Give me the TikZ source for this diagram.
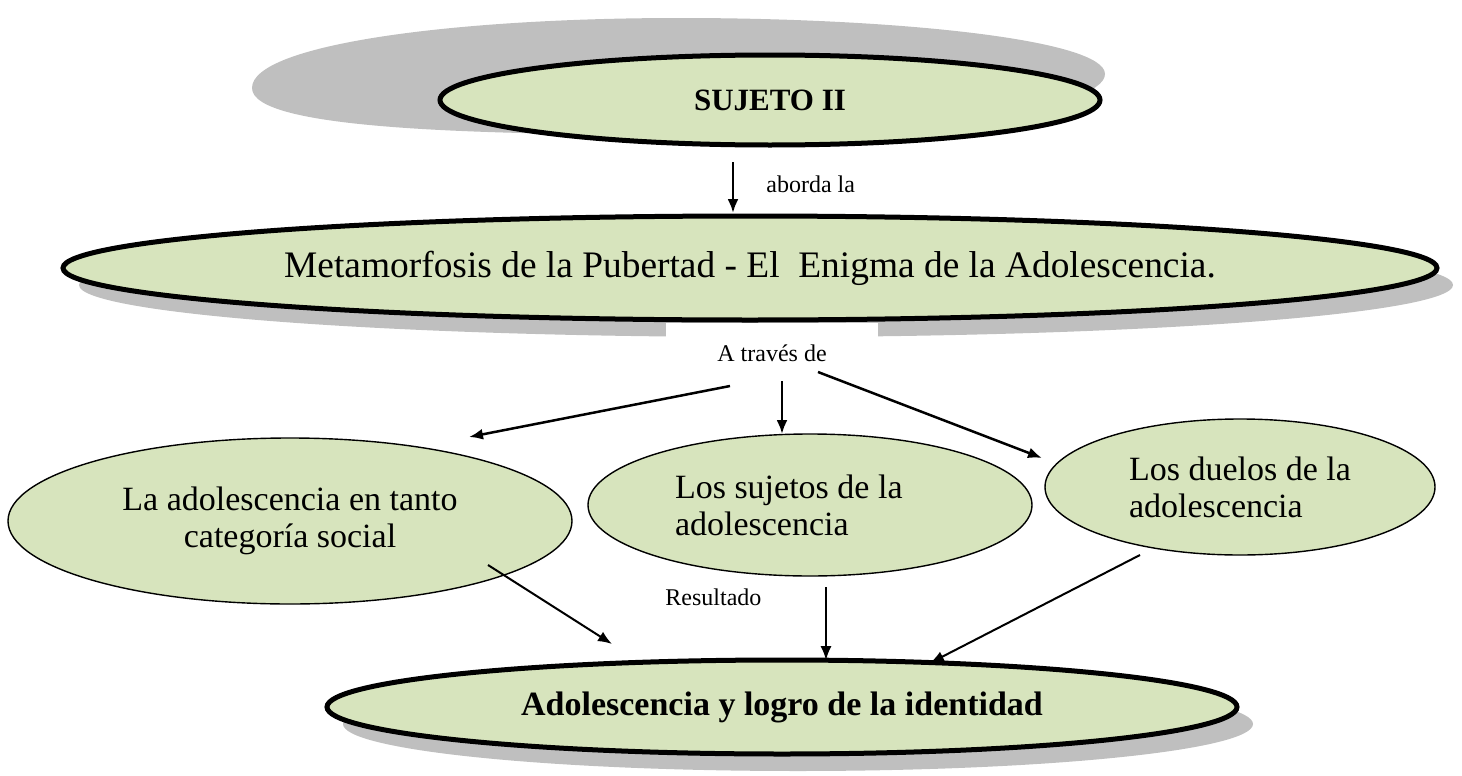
\documentclass[tikz,border=0pt]{standalone}
\usepackage{fontspec}
\setmainfont{Liberation Serif}
\usepackage{tikz}
\usetikzlibrary{arrows.meta, positioning, shapes.geometric, shadows}
\definecolor{olivefill}{HTML}{D7E4BD}
\definecolor{shadowgray}{HTML}{BFBFBF}
\tikzset{
>={Latex[length=7pt,width=5.5pt]}, % filled arrow heads
bubble/.style={ellipse, draw, fill=olivefill, line width=0.7pt, inner sep=0pt,
  align=center, font=\fontsize{17}{18.5}\selectfont}, % light green ellipse
bigbubble/.style={bubble, line width=2.5pt}, % same with a heavy border
shadowed/.style={drop shadow={shadow xshift=8pt, shadow yshift=-8.5pt,
  fill=shadowgray, opacity=1}}, % grey shadow down right
lbl/.style={font=\fontsize{12}{14}\selectfont, inner sep=1pt}, % connector labels
link/.style={->, line width=1.25pt}, % connectors
thinlink/.style={->, line width=1pt},
}

\begin{document}
\begin{tikzpicture}[x=0.5pt, y=-0.5pt]
  \useasboundingbox (0,0) rectangle (1462,776);

  % perspective shadow of the title
  \fill[shadowgray] (252,88) .. controls (252,45) and (450,18) .. (680,18)
    .. controls (900,18) and (1105,40) .. (1105,74)
    .. controls (1105,110) and (900,135) .. (720,135)
    .. controls (480,135) and (252,130) .. (252,88) -- cycle;

  \node[bigbubble, minimum width=330pt, minimum height=45pt,
    font=\fontsize{15.5}{17}\selectfont\bfseries] (sujeto) at (770,100) {SUJETO II};
  \node[bigbubble, shadowed, minimum width=687pt, minimum height=52pt,
    font=\fontsize{18.7}{20}\selectfont] (meta) at (750,268)
    {Metamorfosis de la Pubertad - El~~Enigma de la Adolescencia.};
  \node[lbl, fill=white, minimum width=106pt, minimum height=30pt] (traves) at (772,353) {A través de};

  \node[bubble, minimum width=282pt, minimum height=83pt] (categ) at (290,521)
    {La adolescencia en tanto\\categoría social};
  \node[bubble, minimum width=222pt, minimum height=71pt, text width=135pt, align=flush left] (sujetos) at (810,505)
    {Los sujetos de la\\adolescencia};
  \node[bubble, minimum width=195pt, minimum height=68pt, align=flush left] (duelos) at (1240,487)
    {Los duelos de la\\adolescencia};

  \node[bigbubble, shadowed, minimum width=455pt, minimum height=47pt,
    font=\fontsize{17}{19}\selectfont\bfseries] (logro) at (782,707)
    {Adolescencia y logro de la identidad};

  \node[lbl, anchor=west] (aborda) at (764,184) {aborda la};
  \node[lbl, anchor=west] (result) at (663,597) {Resultado};

  % arrow ends
  \coordinate (s1) at (733,162);  \coordinate (s2) at (733,213);
  \coordinate (t1) at (730,386);  \coordinate (t2) at (469,437);
  \coordinate (t3) at (782,381);  \coordinate (t4) at (782,434);
  \coordinate (t5) at (818,372);  \coordinate (t6) at (1042,458);
  \coordinate (r1) at (488,565);  \coordinate (r2) at (612,644);
  \coordinate (r3) at (826,587);  \coordinate (r4) at (826,660);
  \coordinate (r5) at (1140,555); \coordinate (r6) at (930,663);

  \path[link]
  (s1) edge (s2)
  (t1) edge (t2)
  (t3) edge (t4)
  (t5) edge (t6);
  \path[thinlink]
  (r1) edge (r2)
  (r3) edge[line width=0.7pt] (r4)
  (r5) edge (r6);
\end{tikzpicture}
\end{document}
